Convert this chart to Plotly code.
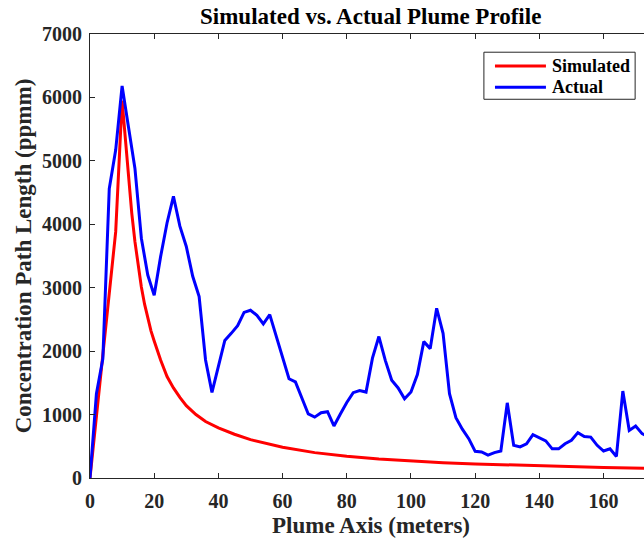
import plotly.graph_objects as go

# Plume axis positions (m) and concentration path length (ppmm)
sim_x = [0, 2, 4, 6, 8, 10, 11, 12, 13, 14, 15, 16, 17, 18, 19, 20, 22, 24, 26, 28,
         30, 33, 36, 40, 45, 50, 55, 60, 70, 80, 90, 100, 110, 120, 140, 160, 176]
sim_y = [0, 960, 1930, 2900, 3880, 5950, 5330, 4740, 4180, 3726, 3340, 3010, 2740,
         2510, 2320, 2160, 1860, 1600, 1420, 1270, 1140, 1000, 890, 790, 690, 605, 540,
         485, 400, 342, 298, 266, 242, 222, 190, 165, 150]

act_x = list(range(0, 176, 2))
act_y = [0, 1330, 1880, 4560, 5170, 6180, 5530, 4880, 3780, 3200,
         2880, 3490, 4020, 4440, 3970, 3650, 3180, 2860, 1860, 1350,
         1760, 2170, 2280, 2400, 2610, 2645, 2565, 2430, 2575, 2230,
         1890, 1565, 1515, 1250, 1010, 960, 1030, 1045, 820, 1010,
         1190, 1345, 1380, 1355, 1890, 2230, 1855, 1540, 1420, 1250,
         1355, 1630, 2150, 2040, 2675, 2280, 1330, 950, 770, 620,
         420, 410, 360, 400, 425, 1185, 515, 490, 540, 685,
         635, 585, 460, 460, 540, 595, 715, 655, 645, 515,
         425, 460, 340, 1370, 750, 820, 700, 650]

x_ticks = [0, 20, 40, 60, 80, 100, 120, 140, 160]
y_ticks = [0, 1000, 2000, 3000, 4000, 5000, 6000, 7000]

series_names = ["Simulated", "Actual"]
series_colors = ["#ff0000", "#0000ff"]

FONT = "Liberation Serif"
AXIS_COLOR = "#262626"

fig = go.Figure()
fig.add_trace(go.Scatter(x=sim_x, y=sim_y, mode="lines", name=series_names[0],
                         line=dict(color=series_colors[0], width=3), showlegend=False))
fig.add_trace(go.Scatter(x=act_x, y=act_y, mode="lines", name=series_names[1],
                         line=dict(color=series_colors[1], width=3), showlegend=False))

axis_common = dict(
    showgrid=False, zeroline=False, showline=True, linecolor=AXIS_COLOR, linewidth=1,
    ticks="inside", ticklen=5, tickwidth=1, tickcolor=AXIS_COLOR,
    tickfont=dict(family=FONT, size=20, color="#262626"),
)

fig.update_xaxes(range=[0, 172.6], tickvals=x_ticks, mirror="ticks",
                 ticktext=[f"<b>{v}</b>" for v in x_ticks], ticklabelstandoff=5,
                 **axis_common)
fig.update_yaxes(range=[0, 7000], tickvals=y_ticks, mirror=False,
                 ticktext=[f"<b>{v}</b>" for v in y_ticks], ticklabelstandoff=3,
                 title=dict(text="<b>Concentration Path Length (ppmm)</b>",
                            font=dict(family=FONT, size=23, color="#262626"), standoff=3),
                 **axis_common)

# Title and x-axis label, centred on the full axes box
fig.add_annotation(text="<b>Simulated vs. Actual Plume Profile</b>", xref="paper", yref="paper",
                   x=0.507, y=1.040, xanchor="center", yanchor="middle", showarrow=False,
                   font=dict(family=FONT, size=23, color="#000000"))
fig.add_annotation(text="<b>Plume Axis (meters)</b>", xref="paper", yref="paper",
                   x=0.507, y=-0.108, xanchor="center", yanchor="middle", showarrow=False,
                   font=dict(family=FONT, size=23, color="#262626"))

# Legend box drawn in the upper right corner
fig.add_shape(type="rect", xref="paper", yref="paper", x0=0.711, x1=0.984, y0=0.853, y1=0.959,
              line=dict(color=AXIS_COLOR, width=1), fillcolor="white", layer="above")
for name, color, ly in zip(series_names, series_colors, [0.928, 0.880]):
    fig.add_shape(type="line", xref="paper", yref="paper", x0=0.731, x1=0.823, y0=ly, y1=ly,
                  line=dict(color=color, width=3), layer="above")
    fig.add_annotation(text=f"<b>{name}</b>", xref="paper", yref="paper", x=0.830, y=ly,
                       xanchor="left", yanchor="middle", showarrow=False,
                       font=dict(family=FONT, size=18, color="#000000"))

fig.update_layout(
    width=644, height=540,
    margin=dict(l=90, r=0, t=34, b=62),
    plot_bgcolor="white", paper_bgcolor="white",
)

fig.write_html("out.html")
